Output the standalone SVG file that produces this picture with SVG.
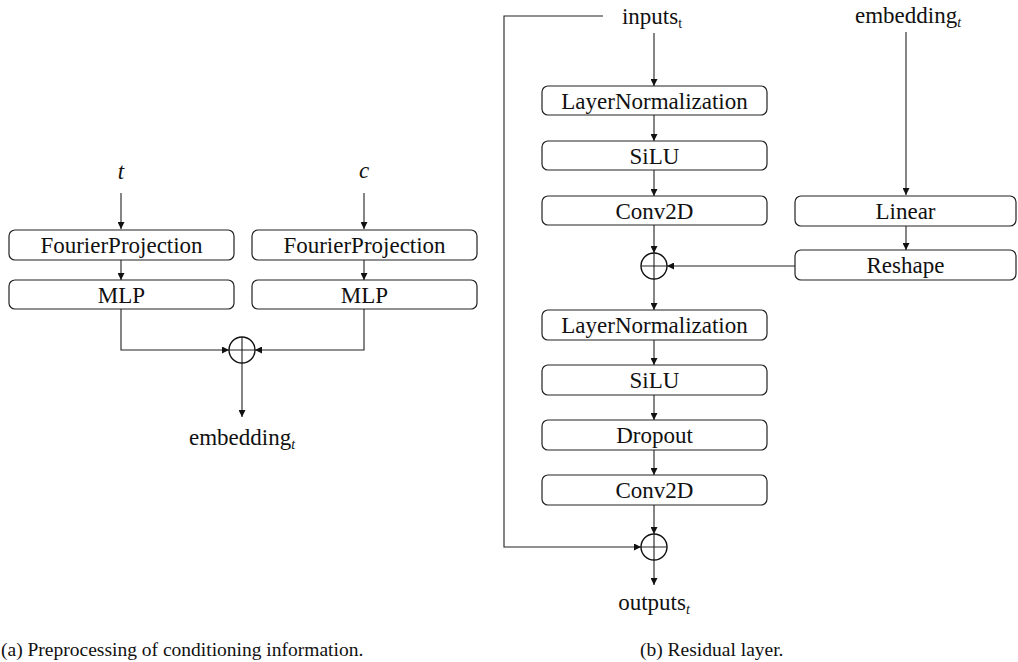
<svg xmlns="http://www.w3.org/2000/svg" width="1018" height="662" viewBox="0 0 1018 662">
<style>
.box{fill:#fff;stroke:#222;stroke-width:1.2}
.lbl{font-family:"Liberation Serif",serif;font-size:23px;fill:#111;text-anchor:middle}
.it{font-style:italic}
.sub{font-size:14px}
.cap{font-family:"Liberation Serif",serif;font-size:19.5px;fill:#111}
.ln{fill:none;stroke:#222;stroke-width:1.1}
.arr{marker-end:url(#ah)}
.sum{fill:#fff;stroke:#111;stroke-width:1.4}
</style>
<defs>
<marker id="ah" viewBox="0 0 8 8" refX="8" refY="4" markerWidth="7" markerHeight="7" markerUnits="userSpaceOnUse" orient="auto">
<path d="M0,0 L8,4 L0,8 z" fill="#111"/>
</marker>
</defs>
<g id="connectors">
<path class="ln arr" d="M121,193 V229"/>
<path class="ln arr" d="M364,193 V229"/>
<path class="ln arr" d="M121,260 V280"/>
<path class="ln arr" d="M364,260 V280"/>
<path class="ln arr" d="M121,309 V350 H229"/>
<path class="ln arr" d="M364,309 V350 H255"/>
<path class="ln arr" d="M242,363 V417"/>
<path class="ln arr" d="M654,33 V86"/>
<path class="ln arr" d="M654,115 V141"/>
<path class="ln arr" d="M654,170 V196"/>
<path class="ln arr" d="M654,225 V253"/>
<path class="ln arr" d="M654,279 V310"/>
<path class="ln arr" d="M654,340 V365"/>
<path class="ln arr" d="M654,395 V420"/>
<path class="ln arr" d="M654,450 V475"/>
<path class="ln arr" d="M654,505 V534"/>
<path class="ln arr" d="M654,560 V585"/>
<path class="ln arr" d="M603,16 H504 V547 H641"/>
<path class="ln arr" d="M906,32 V195"/>
<path class="ln arr" d="M906,226 V250"/>
<path class="ln arr" d="M795,266 H667"/>
</g>
<g id="t-label"><text class="lbl it" x="121" y="179">t</text></g>
<g id="c-label"><text class="lbl it" x="364" y="178">c</text></g>
<g id="fp1"><rect class="box" x="9" y="230" width="225" height="30" rx="6"/><text class="lbl" x="121.5" y="253">FourierProjection</text></g>
<g id="fp2"><rect class="box" x="252" y="230" width="225" height="30" rx="6"/><text class="lbl" x="364.5" y="253">FourierProjection</text></g>
<g id="mlp1"><rect class="box" x="9" y="280" width="225" height="29" rx="6"/><text class="lbl" x="121.5" y="302.5">MLP</text></g>
<g id="mlp2"><rect class="box" x="252" y="280" width="225" height="29" rx="6"/><text class="lbl" x="364.5" y="302.5">MLP</text></g>
<g id="sum-a"><circle class="sum" cx="242" cy="350" r="13"/><path class="ln" d="M229,350 H255 M242,337 V363"/></g>
<g id="embedding-out"><text class="lbl" x="242" y="445">embedding<tspan class="sub it" dy="4">t</tspan></text></g>
<g id="inputs"><text class="lbl" x="652" y="24">inputs<tspan class="sub" dy="4">t</tspan></text></g>
<g id="embedding-in"><text class="lbl" x="908" y="23">embedding<tspan class="sub it" dy="4">t</tspan></text></g>
<g id="ln1"><rect class="box" x="542" y="86" width="225" height="29" rx="6"/><text class="lbl" x="654.5" y="108.5">LayerNormalization</text></g>
<g id="silu1"><rect class="box" x="542" y="141" width="225" height="29" rx="6"/><text class="lbl" x="654.5" y="163.5">SiLU</text></g>
<g id="conv1"><rect class="box" x="542" y="196" width="225" height="29" rx="6"/><text class="lbl" x="654.5" y="218.5">Conv2D</text></g>
<g id="linear"><rect class="box" x="795" y="196" width="221" height="30" rx="6"/><text class="lbl" x="905.5" y="219">Linear</text></g>
<g id="reshape"><rect class="box" x="795" y="250" width="221" height="30" rx="6"/><text class="lbl" x="905.5" y="273">Reshape</text></g>
<g id="sum-b1"><circle class="sum" cx="654" cy="266" r="13"/><path class="ln" d="M641,266 H667 M654,253 V279"/></g>
<g id="ln2"><rect class="box" x="542" y="310" width="225" height="30" rx="6"/><text class="lbl" x="654.5" y="333">LayerNormalization</text></g>
<g id="silu2"><rect class="box" x="542" y="365" width="225" height="30" rx="6"/><text class="lbl" x="654.5" y="388">SiLU</text></g>
<g id="dropout"><rect class="box" x="542" y="420" width="225" height="30" rx="6"/><text class="lbl" x="654.5" y="443">Dropout</text></g>
<g id="conv2"><rect class="box" x="542" y="475" width="225" height="30" rx="6"/><text class="lbl" x="654.5" y="498">Conv2D</text></g>
<g id="sum-b2"><circle class="sum" cx="654" cy="547" r="13"/><path class="ln" d="M641,547 H667 M654,534 V560"/></g>
<g id="outputs"><text class="lbl" x="654" y="610">outputs<tspan class="sub it" dy="4">t</tspan></text></g>
<g id="captions">
<text class="cap" x="1" y="656">(a) Preprocessing of conditioning information.</text>
<text class="cap" x="640" y="656">(b) Residual layer.</text>
</g>
</svg>
